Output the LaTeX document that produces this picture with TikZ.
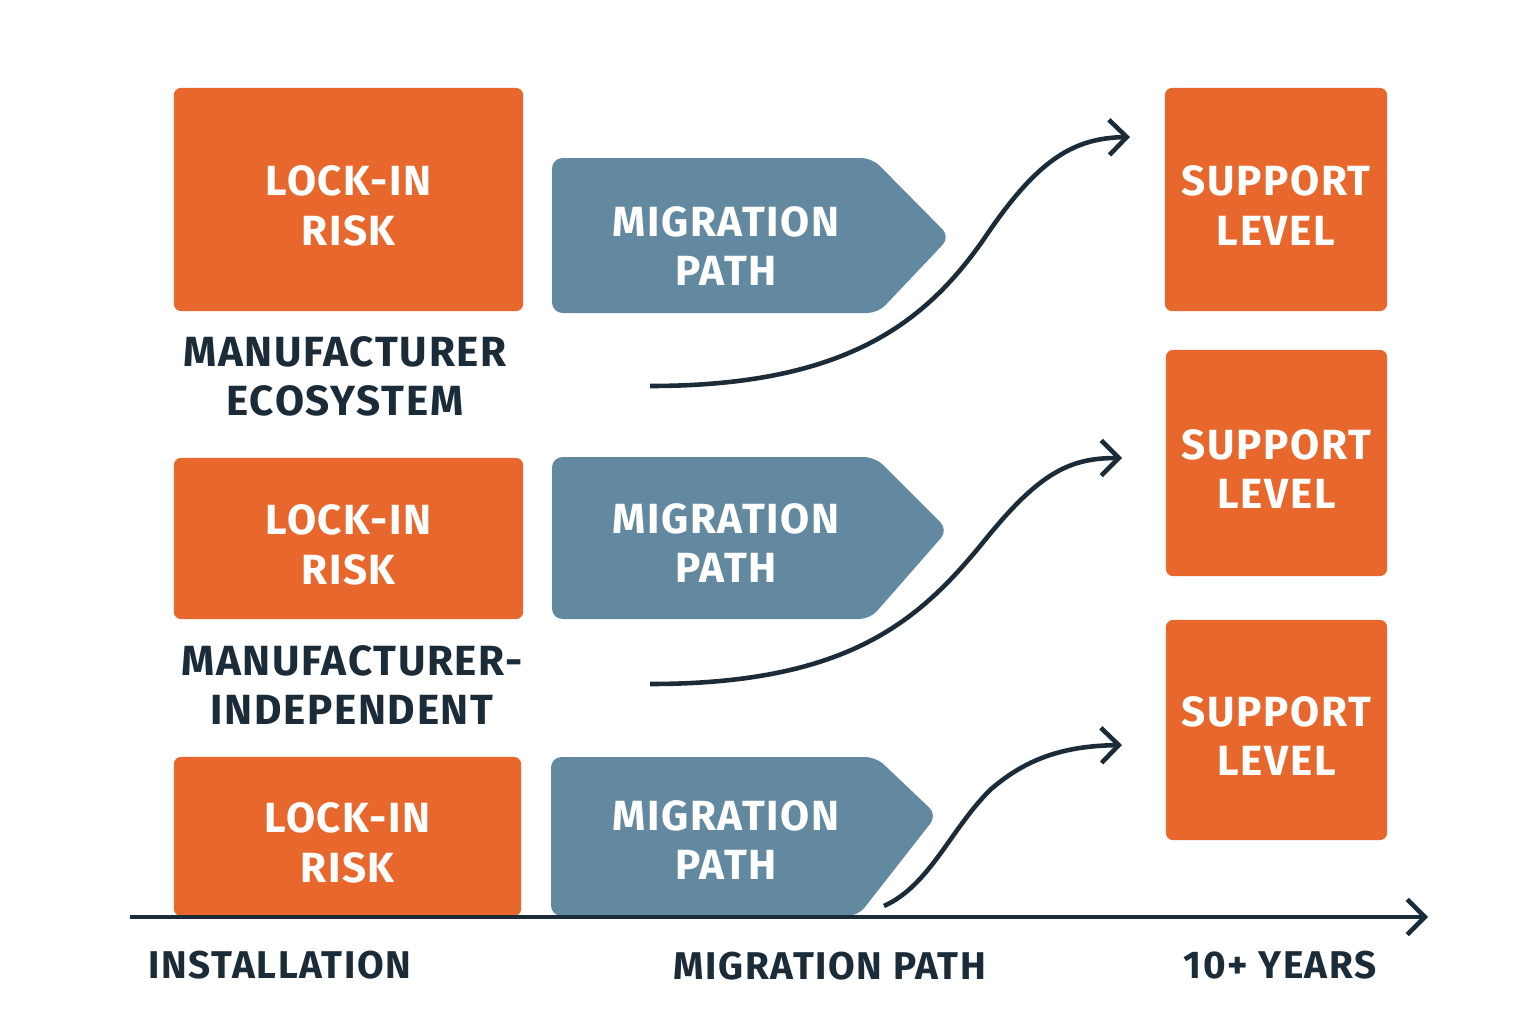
\documentclass[tikz,border=0pt]{standalone}
\usepackage{fontspec}
\setmainfont{Fira Sans}[LetterSpace=4]
\usetikzlibrary{arrows.meta}
\definecolor{lockorange}{HTML}{E8672C}
\definecolor{pathblue}{HTML}{6289A0}
\definecolor{inkdark}{HTML}{1C2B38}

\begin{document}
\begin{tikzpicture}[x=0.01cm, y=-0.01cm,
	every node/.style={font=\bfseries\fontsize{12}{14}\selectfont, align=center},
	box/.style={fill=lockorange, text=white, rounded corners=2pt, inner sep=0pt, text height=26pt, text depth=0pt},
	chev/.style={fill=pathblue, rounded corners=3pt},
	lbl/.style={text=inkdark},
	axlbl/.style={text=inkdark, font=\bfseries\fontsize{11}{13}\selectfont},
	flow/.style={line width=1.3pt, inkdark, -{Straight Barb[length=5pt, width=10pt]}}]
	\useasboundingbox (0,0) rectangle (1536,1024);
	\node[box, minimum width=3.49cm, minimum height=2.23cm] (r1) at (348.5,199.5) {LOCK-IN\\RISK};
	\node[box, minimum width=3.49cm, minimum height=1.61cm] (r2) at (348.5,538.5) {LOCK-IN\\RISK};
	\node[box, minimum width=3.47cm, minimum height=1.59cm] (r3) at (347.5,836.5) {LOCK-IN\\RISK};
	\fill[chev] (552,158) -- (872,158) -- (950,237) -- (878,313) -- (552,313) -- cycle;
	\fill[chev] (552,457) -- (875,457) -- (948,530) -- (870,619) -- (552,619) -- cycle;
	\fill[chev] (551,757) -- (876,757) -- (937,815) -- (858,916) -- (551,916) -- cycle;
	\node[white] (m1) at (726,246) {MIGRATION\\PATH};
	\node[white] (m2) at (726,543) {MIGRATION\\PATH};
	\node[white] (m3) at (726,840) {MIGRATION\\PATH};
	\node[box, minimum width=2.22cm, minimum height=2.23cm] (s1) at (1276,199.5) {SUPPORT\\LEVEL};
	\node[box, minimum width=2.21cm, minimum height=2.26cm] (s2) at (1276.5,463) {SUPPORT\\LEVEL};
	\node[box, minimum width=2.21cm, minimum height=2.20cm] (s3) at (1276.5,730) {SUPPORT\\LEVEL};
	\node[lbl] (e1) at (345,376) {MANUFACTURER\\ECOSYSTEM};
	\node[lbl] (e2) at (352,685) {MANUFACTURER-\\INDEPENDENT};
	\coordinate (c1) at (650,386);
	\coordinate (t1) at (1130,137);
	\coordinate (c2) at (650,684);
	\coordinate (t2) at (1122,458);
	\coordinate (c3) at (884,906);
	\coordinate (t3) at (1122,745);
	\draw[flow] (c1) .. controls (850,386) and (930,320) .. (990,230) .. controls (1040,158) and (1075,138) .. (t1);
	\draw[flow] (c2) .. controls (850,684) and (920,620) .. (985,540) .. controls (1040,472) and (1070,458) .. (t2);
	\draw[flow] (c3) .. controls (930,885) and (950,830) .. (990,790) .. controls (1030,755) and (1070,746) .. (t3);
	\coordinate (a0) at (130,917);
	\coordinate (a1) at (1428,917);
	\draw[line width=1.3pt, inkdark, -{Straight Barb[length=5pt, width=10pt]}] (a0) -- (a1);
	\node[axlbl] (x1) at (280,965) {INSTALLATION};
	\node[axlbl] (x2) at (830,966) {MIGRATION PATH};
	\node[axlbl] (x3) at (1280,965) {10+ YEARS};
\end{tikzpicture}
\end{document}
